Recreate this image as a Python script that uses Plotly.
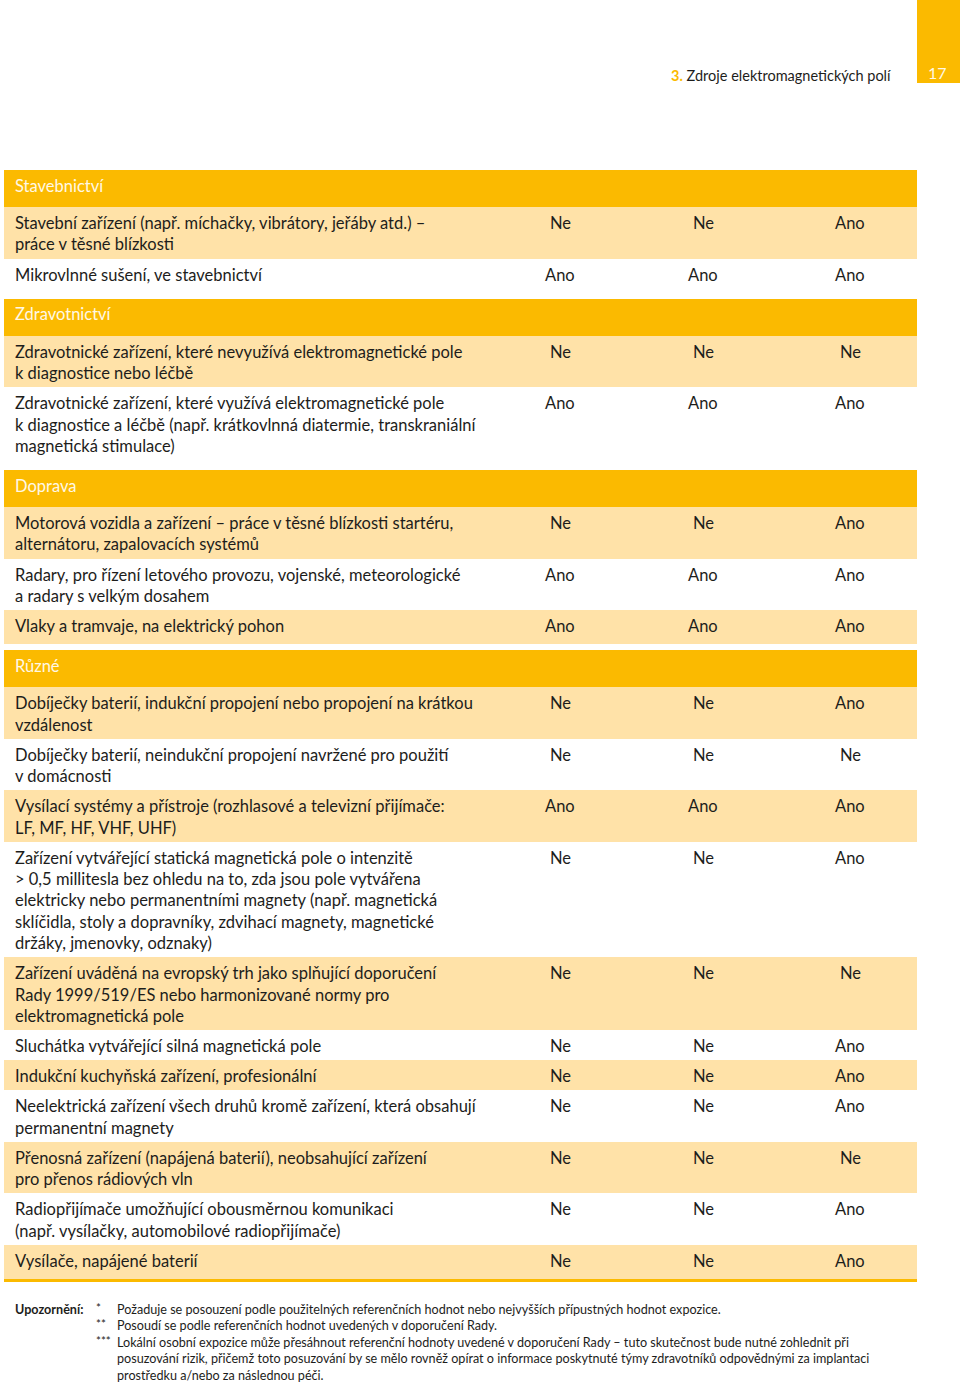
import plotly.graph_objects as go

# ---------------- data ----------------
section_names = ["Stavebnictví", "Zdravotnictví", "Doprava", "Různé"]

row_section = [0, 0, 1, 1, 2, 2, 2, 3, 3, 3, 3, 3, 3, 3, 3, 3, 3, 3]

row_labels = [
    "Stavební zařízení (např. míchačky, vibrátory, jeřáby atd.) –<br>práce v těsné blízkosti",
    "Mikrovlnné sušení, ve stavebnictví",
    "Zdravotnické zařízení, které nevyužívá elektromagnetické pole<br>k diagnostice nebo léčbě",
    "Zdravotnické zařízení, které využívá elektromagnetické pole<br>k diagnostice a léčbě (např. krátkovlnná diatermie, transkraniální<br>magnetická stimulace)",
    "Motorová vozidla a zařízení – práce v těsné blízkosti startéru,<br>alternátoru, zapalovacích systémů",
    "Radary, pro řízení letového provozu, vojenské, meteorologické<br>a radary s velkým dosahem",
    "Vlaky a tramvaje, na elektrický pohon",
    "Dobíječky baterií, indukční propojení nebo propojení na krátkou<br>vzdálenost",
    "Dobíječky baterií, neindukční propojení navržené pro použití<br>v domácnosti",
    "Vysílací systémy a přístroje (rozhlasové a televizní přijímače:<br>LF, MF, HF, VHF, UHF)",
    "Zařízení vytvářející statická magnetická pole o intenzitě<br>&gt; 0,5 millitesla bez ohledu na to, zda jsou pole vytvářena<br>elektricky nebo permanentními magnety (např. magnetická<br>sklíčidla, stoly a dopravníky, zdvihací magnety, magnetické<br>držáky, jmenovky, odznaky)",
    "Zařízení uváděná na evropský trh jako splňující doporučení<br>Rady 1999/519/ES nebo harmonizované normy pro<br>elektromagnetická pole",
    "Sluchátka vytvářející silná magnetická pole",
    "Indukční kuchyňská zařízení, profesionální",
    "Neelektrická zařízení všech druhů kromě zařízení, která obsahují<br>permanentní magnety",
    "Přenosná zařízení (napájená baterií), neobsahující zařízení<br>pro přenos rádiových vln",
    "Radiopřijímače umožňující obousměrnou komunikaci<br>(např. vysílačky, automobilové radiopřijímače)",
    "Vysílače, napájené baterií",
]

col1_values = ["Ne", "Ano", "Ne", "Ano", "Ne", "Ano", "Ano", "Ne", "Ne", "Ano",
               "Ne", "Ne", "Ne", "Ne", "Ne", "Ne", "Ne", "Ne"]
col2_values = ["Ne", "Ano", "Ne", "Ano", "Ne", "Ano", "Ano", "Ne", "Ne", "Ano",
               "Ne", "Ne", "Ne", "Ne", "Ne", "Ne", "Ne", "Ne"]
col3_values = ["Ano", "Ano", "Ne", "Ano", "Ano", "Ano", "Ano", "Ano", "Ne", "Ano",
               "Ano", "Ne", "Ano", "Ano", "Ano", "Ne", "Ano", "Ano"]

chapter_number = "3."
chapter_title = "Zdroje elektromagnetických polí"
page_number = "17"

note_label = "Upozornění:"
note_marks = ["*", "**", "***"]
note_texts = [
    "Požaduje se posouzení podle použitelných referenčních hodnot nebo nejvyšších přípustných hodnot expozice.",
    "Posoudí se podle referenčních hodnot uvedených v doporučení Rady.",
    "Lokální osobní expozice může přesáhnout referenční hodnoty uvedené v doporučení Rady – tuto skutečnost bude nutné zohlednit při<br>posuzování rizik, přičemž toto posuzování by se mělo rovněž opírat o informace poskytnuté týmy zdravotníků odpovědnými za implantaci<br>prostředku a/nebo za následnou péči.",
]

# ---------------- style / layout ----------------
W, H = 960, 1386
FONT = "Lato"
DARK = "#1d1d1b"
YELLOW = "#FBBA00"
LIGHT = "#FFE2A8"
HEADER_TXT = "#FFF8E6"

TABLE_L, TABLE_R = 4, 917
TOP = 170
HEADER_H = 37
LINE_H = 21.45
ROW_PAD = 8.6
LAST_EXTRA = 4
GAP = 6
TEXT_X = 13
VAL_X = [560, 703, 850]
BODY_SIZE = 16.5
NOTE_SIZE = 12.6

band_y, band_h, band_c = [], [], []
annotations = []

def add_text(x, y, text, size=BODY_SIZE, color=DARK, xanchor="left", bold=False):
    t = f"<b>{text}</b>" if bold else text
    annotations.append(dict(x=x, y=y, xref="x", yref="y", text=t, showarrow=False,
                            xanchor=xanchor, yanchor="middle",
                            font=dict(family=FONT, size=size, color=color)))

y = TOP
n_rows = len(row_labels)
for s, name in enumerate(section_names):
    band_y.append(y + HEADER_H / 2)
    band_h.append(HEADER_H)
    band_c.append(YELLOW)
    add_text(TEXT_X, y + 15.5, name, color=HEADER_TXT)
    y += HEADER_H
    idx = [i for i in range(n_rows) if row_section[i] == s]
    for k, i in enumerate(idx):
        lines = row_labels[i].split("<br>")
        last = (k == len(idx) - 1)
        h = ROW_PAD + LINE_H * len(lines) + (LAST_EXTRA if last else 0)
        band_y.append(y + h / 2)
        band_h.append(h)
        band_c.append(LIGHT if k % 2 == 0 else "rgba(0,0,0,0)")
        for j, ln in enumerate(lines):
            add_text(TEXT_X, y + 16 + j * LINE_H, ln)
        for cx, vals in zip(VAL_X, (col1_values, col2_values, col3_values)):
            add_text(cx, y + 16, vals[i], xanchor="center")
        y += h
        if last and s < len(section_names) - 1:
            y += GAP
table_bottom = y

fig = go.Figure()
fig.add_trace(go.Bar(
    orientation="h", y=band_y, x=[TABLE_R - TABLE_L] * len(band_y), base=TABLE_L,
    width=band_h, marker=dict(color=band_c, line=dict(width=0)),
    hoverinfo="skip", showlegend=False,
))

shapes = [
    dict(type="line", xref="x", yref="y", x0=TABLE_L, x1=TABLE_R,
         y0=table_bottom + 1.5, y1=table_bottom + 1.5, line=dict(color=YELLOW, width=3)),
    dict(type="rect", xref="x", yref="y", x0=917, x1=960, y0=0, y1=83,
         fillcolor=YELLOW, line=dict(width=0), layer="below"),
]

# page header
annotations.append(dict(x=893, y=75, xref="x", yref="y", showarrow=False,
                        xanchor="right", yanchor="middle",
                        text=f"<b><span style='color:{YELLOW}'>{chapter_number}</span></b> {chapter_title}",
                        font=dict(family=FONT, size=14.5, color=DARK)))
annotations.append(dict(x=937, y=72, xref="x", yref="y", showarrow=False,
                        xanchor="center", yanchor="middle", text=page_number,
                        font=dict(family=FONT, size=16, color=HEADER_TXT)))

# notes
NOTE_Y0 = 1309
NOTE_LH = 16.5
add_text(13, NOTE_Y0, note_label, size=NOTE_SIZE, bold=True)
ln_i = 0
for mark, txt in zip(note_marks, note_texts):
    add_text(94, NOTE_Y0 + ln_i * NOTE_LH - 2, mark, size=NOTE_SIZE - 1)
    for ln in txt.split("<br>"):
        add_text(115, NOTE_Y0 + ln_i * NOTE_LH, ln, size=NOTE_SIZE)
        ln_i += 1

fig.update_layout(
    width=W, height=H, margin=dict(l=0, r=0, t=0, b=0),
    paper_bgcolor="white", plot_bgcolor="white",
    xaxis=dict(range=[0, W], visible=False, fixedrange=True),
    yaxis=dict(range=[H, 0], visible=False, fixedrange=True),
    shapes=shapes, annotations=annotations, bargap=0,
)

fig.write_html("out.html", config={"displayModeBar": False},
               post_script="document.body.style.margin='0';document.body.style.overflow='hidden';")
